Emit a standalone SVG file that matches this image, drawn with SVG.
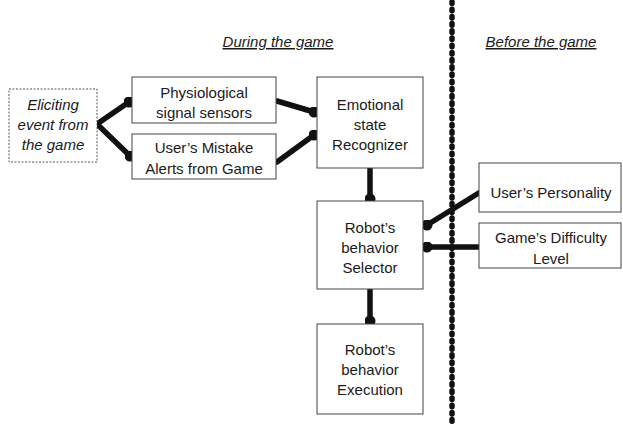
<svg xmlns="http://www.w3.org/2000/svg" width="623" height="425" viewBox="0 0 623 425">
  <defs>
    <style>
      .box { fill: #ffffff; stroke: #444444; stroke-width: 1; }
      .dashbox { fill: #ffffff; stroke: #555555; stroke-width: 1; stroke-dasharray: 2 1.5; }
      .lbl { font-family: "Liberation Sans", Arial, sans-serif; font-size: 15px; fill: #1a1a1a; text-anchor: middle; }
      .it { font-style: italic; }
      .hdr { text-decoration: underline; }
      .wire { stroke: #111111; stroke-width: 5.5; fill: none; stroke-linecap: round; marker-end: url(#dot); }
      .divider { stroke: #111111; stroke-width: 5.5; stroke-linecap: round; stroke-dasharray: 1.6 5.6; fill: none; }
    </style>
    <marker id="dot" viewBox="0 0 10 10" refX="5" refY="5" markerWidth="2" markerHeight="2" markerUnits="strokeWidth">
      <circle cx="5" cy="5" r="5" fill="#111111"/>
    </marker>
  </defs>

  <!-- section divider -->
  <line class="divider" x1="452" y1="2" x2="452" y2="424"/>

  <!-- section headings -->
  <text class="lbl it hdr" x="278" y="47">During the game</text>
  <text class="lbl it hdr" x="541" y="47">Before the game</text>

  <!-- connectors -->
  <g id="connectors">
    <path class="wire" d="M97,124 L129,102"/>
    <path class="wire" d="M97,124 L130,156"/>
    <path class="wire" d="M277,101 L314,112"/>
    <path class="wire" d="M277,162 L314,135"/>
    <path class="wire" d="M370,169 L370,199"/>
    <path class="wire" d="M370,290 L370,321"/>
    <path class="wire" d="M482,191 L427,225"/>
    <path class="wire" d="M482,247 L427,247"/>
  </g>

  <g id="eliciting">
    <rect class="dashbox" x="9" y="89" width="88" height="73"/>
    <text class="lbl it" x="53" y="110">Eliciting</text>
    <text class="lbl it" x="53" y="130">event from</text>
    <text class="lbl it" x="53" y="150">the game</text>
  </g>

  <g id="physio">
    <rect class="box" x="132" y="77" width="144" height="46"/>
    <text class="lbl" x="204" y="98">Physiological</text>
    <text class="lbl" x="204" y="118">signal sensors</text>
  </g>

  <g id="mistake">
    <rect class="box" x="132" y="134" width="144" height="45"/>
    <text class="lbl" x="204" y="153">User’s Mistake</text>
    <text class="lbl" x="204" y="174">Alerts from Game</text>
  </g>

  <g id="emotional">
    <rect class="box" x="317" y="77" width="106" height="91"/>
    <text class="lbl" x="370" y="110">Emotional</text>
    <text class="lbl" x="370" y="130">state</text>
    <text class="lbl" x="370" y="150">Recognizer</text>
  </g>

  <g id="selector">
    <rect class="box" x="317" y="201" width="106" height="88"/>
    <text class="lbl" x="370" y="233">Robot’s</text>
    <text class="lbl" x="370" y="253">behavior</text>
    <text class="lbl" x="370" y="273">Selector</text>
  </g>

  <g id="execution">
    <rect class="box" x="317" y="324" width="106" height="90"/>
    <text class="lbl" x="370" y="355">Robot’s</text>
    <text class="lbl" x="370" y="375">behavior</text>
    <text class="lbl" x="370" y="395">Execution</text>
  </g>

  <g id="personality">
    <rect class="box" x="479" y="163" width="142" height="49"/>
    <text class="lbl" x="551" y="198">User’s Personality</text>
  </g>

  <g id="difficulty">
    <rect class="box" x="479" y="223" width="142" height="45"/>
    <text class="lbl" x="551" y="243">Game’s Difficulty</text>
    <text class="lbl" x="551" y="264">Level</text>
  </g>
</svg>
